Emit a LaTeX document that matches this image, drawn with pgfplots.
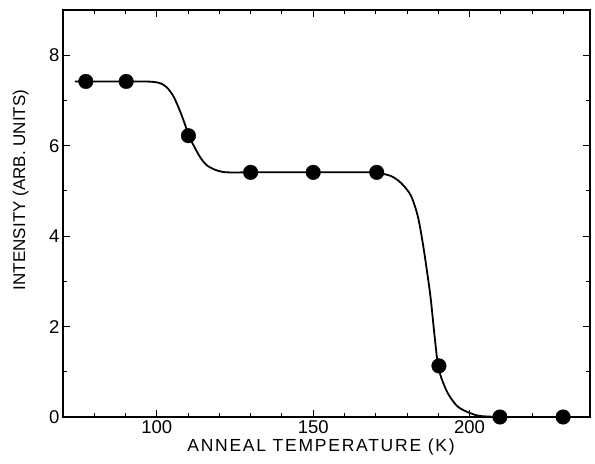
\documentclass[border=0pt]{standalone}
\usepackage{fontspec}
\setmainfont{Liberation Sans}
\newfontfamily\wide[LetterSpace=10]{Liberation Sans}
\usepackage{pgfplots}
\pgfplotsset{compat=1.18}

\begin{document}
\begin{tikzpicture}
\begin{axis}[
    scale only axis,
    width=527pt, height=407pt,
    xmin=70, xmax=238.5,
    ymin=0, ymax=9,
    xtick={100,150,200},
    ytick={0,2,4,6,8},
    minor xtick={80,90,110,120,130,140,160,170,180,190,210,220,230},
    minor ytick={1,3,5,7},
    tick align=inside,
    major tick length=7pt,
    minor tick length=4pt,
    axis line style={line width=1.6pt},
    every tick/.style={black, line width=1pt},
    /pgf/number format/assume math mode=true,
    ticklabel style={font=\fontsize{18.5}{22}\selectfont},
    xlabel={\wide ANNEAL TEMPERATURE (K)},
    ylabel={INTENSITY (ARB. UNITS)},
    xlabel style={font=\fontsize{17.5}{21}\selectfont,
        at={(axis description cs:0.4896,-0.086)}, anchor=base},
    ylabel style={font=\fontsize{17}{21}\selectfont,
        at={(axis description cs:-0.0721,0.558)}, anchor=base},
    clip=false,
]
% smooth curve
\addplot[black, line width=1.8pt, smooth] coordinates {
    (73.8,7.42) (85,7.42) (95,7.42) (98.9,7.41) (101.1,7.38) (103.2,7.29)
    (105.4,7.08) (107.5,6.75) (109.1,6.45) (110.2,6.22) (111.8,6.0)
    (113.9,5.74) (116.1,5.56) (119.3,5.45) (122.5,5.41) (130,5.41)
    (150,5.41) (168,5.41) (170.5,5.40) (174.8,5.33) (178.0,5.18)
    (181.2,4.90) (183.4,4.45) (185.0,3.86) (186.6,3.12) (187.6,2.60)
    (188.7,1.86) (189.8,1.19) (190.8,0.90) (193.0,0.53) (196.2,0.23)
    (200.4,0.08) (203.7,0.02) (210,0.0)
};
% measured points
\addplot[only marks, mark=*, mark size=7.3pt, black] coordinates {
    (77.3,7.42) (90.2,7.42) (110.1,6.22) (130,5.41) (150,5.41)
    (170.3,5.41) (190.2,1.13) (209.7,0) (229.9,0)
};
\end{axis}
\path (current axis.south west) ++(-63pt,-47pt) coordinate (a);
\path (current axis.north east) ++(5pt,10pt) coordinate (b);
\path (a) rectangle (b);
\end{tikzpicture}
\end{document}
